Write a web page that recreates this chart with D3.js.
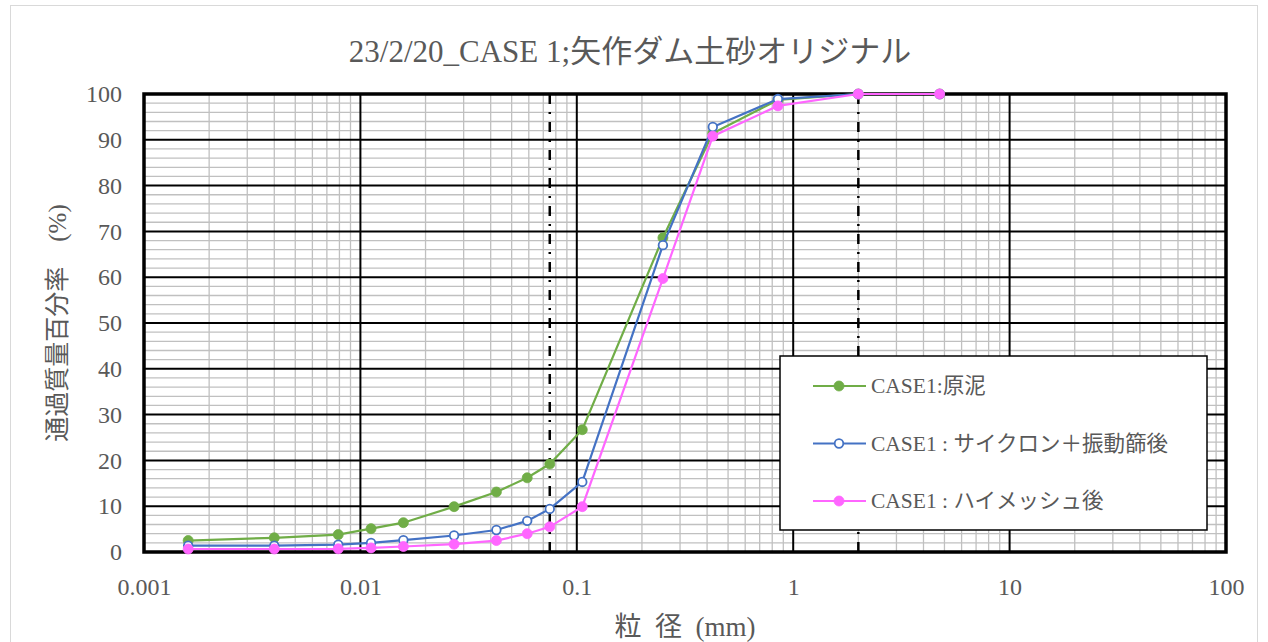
<!DOCTYPE html>
<html>
<head>
<meta charset="utf-8">
<script src="https://cdn.jsdelivr.net/npm/d3@7"></script>
<style>
  body { margin: 0; background: #fff; }
  text { font-family: "Liberation Serif", "Noto Sans CJK JP", serif; fill: #595959; }
</style>
</head>
<body>
<div id="container"></div>
<script>
"use strict";

// particle size (mm) for each sample point
const sizes = [0.0016, 0.004, 0.0079, 0.0112, 0.0158, 0.0271, 0.0425, 0.059, 0.075, 0.106, 0.25, 0.425, 0.85, 2, 4.75];

// passing percentage per series
const genDei = [2.5, 3.1, 3.8, 5.1, 6.4, 9.9, 13.1, 16.2, 19.2, 26.7, 68.6, 91.4, 98.7, 100, 100];
const cyclone = [1.4, 1.4, 1.6, 2.0, 2.6, 3.6, 4.8, 6.8, 9.4, 15.3, 67.0, 92.8, 98.9, 100, 100];
const himesh = [0.65, 0.65, 0.7, 0.9, 1.2, 1.7, 2.5, 4.0, 5.5, 9.9, 59.7, 90.8, 97.4, 100, 100];

const seriesNames = ["CASE1:原泥", "CASE1 : サイクロン＋振動篩後", "CASE1 : ハイメッシュ後"];
const seriesColors = ["#70AD47", "#4472C4", "#FF66FF"];

const xTicks = [0.001, 0.01, 0.1, 1, 10, 100];
const yTicks = [0, 10, 20, 30, 40, 50, 60, 70, 80, 90, 100];
const refLines = [0.075, 2];

const width = 1268, height = 642;
const plot = { left: 144, right: 1226, top: 94, bottom: 552 };

const svg = d3.select("#container").append("svg")
    .attr("width", width)
    .attr("height", height);

// outer chart frame
svg.append("rect")
    .attr("x", 10.5).attr("y", 5.5)
    .attr("width", 1247).attr("height", 660)
    .attr("fill", "#fff")
    .attr("stroke", "#d9d9d9");

const x = d3.scaleLog().domain([0.001, 100]).range([plot.left, plot.right]);
const y = d3.scaleLinear().domain([0, 100]).range([plot.bottom, plot.top]);

const grid = svg.append("g");

// minor grid: 2..9 per decade, every 2 %
let minorX = [];
xTicks.slice(0, -1).forEach(d => { for (let k = 2; k <= 9; k++) minorX.push(d * k); });
let minorY = d3.range(0, 101, 2).filter(v => v % 10 !== 0);

grid.selectAll(".mx").data(minorX).enter().append("line")
    .attr("x1", d => x(d)).attr("x2", d => x(d))
    .attr("y1", plot.top).attr("y2", plot.bottom)
    .attr("stroke", "#c0c0c0").attr("stroke-width", 1.3);
grid.selectAll(".my").data(minorY).enter().append("line")
    .attr("x1", plot.left).attr("x2", plot.right)
    .attr("y1", d => y(d)).attr("y2", d => y(d))
    .attr("stroke", "#c0c0c0").attr("stroke-width", 1.3);

// major grid
grid.selectAll(".Mx").data(xTicks).enter().append("line")
    .attr("x1", d => x(d)).attr("x2", d => x(d))
    .attr("y1", plot.top).attr("y2", plot.bottom)
    .attr("stroke", "#000").attr("stroke-width", 2);
grid.selectAll(".My").data(yTicks).enter().append("line")
    .attr("x1", plot.left).attr("x2", plot.right)
    .attr("y1", d => y(d)).attr("y2", d => y(d))
    .attr("stroke", "#000").attr("stroke-width", 2);

// reference dash-dot lines (75um, 2mm)
grid.selectAll(".ref").data(refLines).enter().append("line")
    .attr("x1", d => x(d)).attr("x2", d => x(d))
    .attr("y1", plot.top).attr("y2", plot.bottom)
    .attr("stroke", "#000").attr("stroke-width", 2.5)
    .attr("stroke-dasharray", "10,8,2,8");

// plot border
svg.append("rect")
    .attr("x", plot.left).attr("y", plot.top)
    .attr("width", plot.right - plot.left).attr("height", plot.bottom - plot.top)
    .attr("fill", "none").attr("stroke", "#000").attr("stroke-width", 3.5);

// axes labels (no tick marks)
const xAxis = svg.append("g")
    .attr("transform", `translate(0,${plot.bottom})`)
    .call(d3.axisBottom(x).tickValues(xTicks).tickFormat(d => String(d)).tickSize(0).tickPadding(26));
const yAxis = svg.append("g")
    .attr("transform", `translate(${plot.left},0)`)
    .call(d3.axisLeft(y).tickValues(yTicks).tickSize(0).tickPadding(22));
[xAxis, yAxis].forEach(a => {
    a.select(".domain").remove();
    a.selectAll("text").attr("font-size", 24).attr("fill", "#595959")
        .attr("font-family", "Liberation Serif, serif");
});

// data series
const allSeries = [genDei, cyclone, himesh];
const line = d3.line().x((d, i) => x(sizes[i])).y(d => y(d));
allSeries.forEach((vals, si) => {
    const g = svg.append("g");
    g.append("path")
        .datum(vals)
        .attr("fill", "none")
        .attr("stroke", seriesColors[si])
        .attr("stroke-width", 2.2)
        .attr("d", line);
    g.selectAll("circle").data(vals).enter().append("circle")
        .attr("cx", (d, i) => x(sizes[i]))
        .attr("cy", d => y(d))
        .attr("r", si === 1 ? 4.3 : 5)
        .attr("fill", si === 1 ? "#fff" : seriesColors[si])
        .attr("stroke", seriesColors[si])
        .attr("stroke-width", si === 1 ? 1.8 : 0.8);
});

// legend
const legend = svg.append("g");
legend.append("rect")
    .attr("x", 780).attr("y", 356)
    .attr("width", 427).attr("height", 174)
    .attr("fill", "#fff").attr("stroke", "#000").attr("stroke-width", 1.5);
seriesNames.forEach((name, i) => {
    const ly = 386 + i * 57.5;
    legend.append("line")
        .attr("x1", 813).attr("x2", 866).attr("y1", ly).attr("y2", ly)
        .attr("stroke", seriesColors[i]).attr("stroke-width", 2.2);
    legend.append("circle")
        .attr("cx", 839).attr("cy", ly).attr("r", i === 1 ? 4.3 : 5)
        .attr("fill", i === 1 ? "#fff" : seriesColors[i])
        .attr("stroke", seriesColors[i]).attr("stroke-width", i === 1 ? 1.8 : 0.8);
    legend.append("text")
        .attr("x", 871).attr("y", ly + 7)
        .attr("font-size", 21.5)
        .text(name);
});

// title
svg.append("text")
    .attr("x", 630).attr("y", 62)
    .attr("text-anchor", "middle")
    .attr("font-size", 31)
    .text("23/2/20_CASE 1;矢作ダム土砂オリジナル");

// axis titles
svg.append("text")
    .attr("x", (plot.left + plot.right) / 2).attr("y", 636)
    .attr("text-anchor", "middle")
    .attr("font-size", 27)
    .attr("xml:space", "preserve")
    .style("white-space", "pre")
    .text("粒  径  (mm)");
svg.append("text")
    .attr("transform", `translate(66,${(plot.top + plot.bottom) / 2}) rotate(-90)`)
    .attr("text-anchor", "middle")
    .attr("font-size", 25)
    .text("通過質量百分率　(%)");
</script>
</body>
</html>
